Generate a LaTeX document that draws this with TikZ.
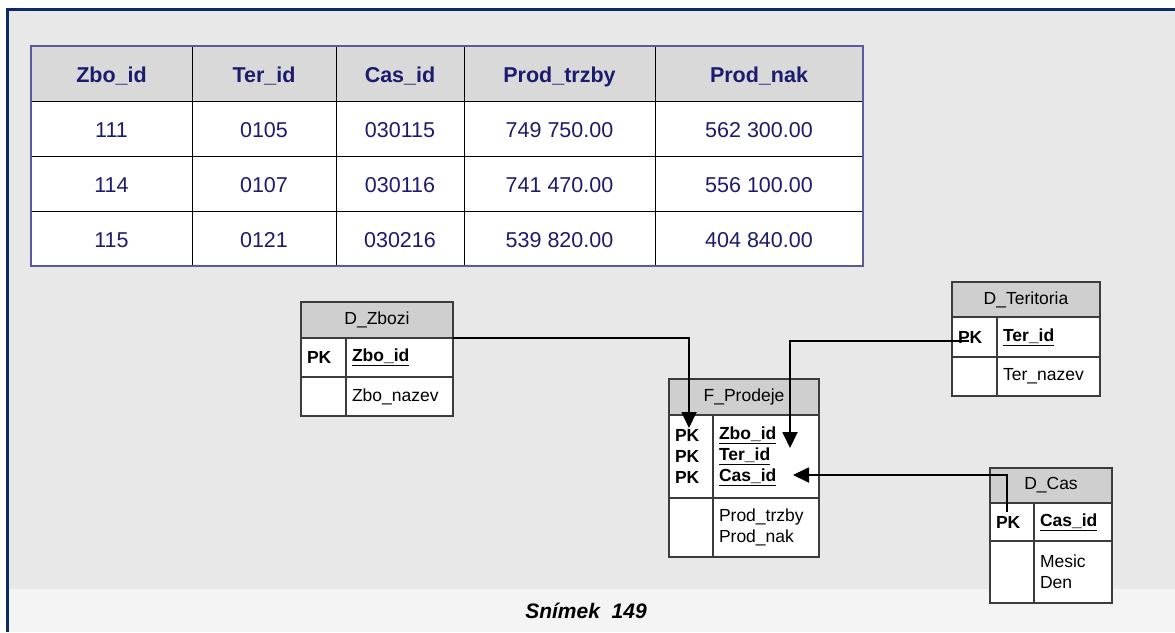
\documentclass[tikz,border=0pt]{standalone}
\usepackage{fontspec}
\setmainfont{Liberation Sans}
\usetikzlibrary{arrows.meta}
\definecolor{slidegray}{HTML}{E8E8E8}
\definecolor{stripgray}{HTML}{F4F4F4}
\definecolor{framenavy}{HTML}{0D2A63}
\definecolor{tabtext}{HTML}{1C1C6E}
\definecolor{tabedge}{HTML}{5A5A9C}
\definecolor{headgray}{HTML}{D9D9D9}
\definecolor{titlegray}{HTML}{CFCFCF}
\definecolor{edgegray}{HTML}{3C3C3C}
\begin{document}
\begin{tikzpicture}[x=1pt,y=-1pt,
  thead/.style={draw=black,line width=1pt,fill=headgray,text=tabtext,
    font=\fontsize{21.5}{26}\selectfont\bfseries,text height=18pt,text depth=0pt,
    minimum height=55pt,inner sep=0pt,outer sep=0pt},
  tcell/.style={thead,fill=white,font=\fontsize{21.5}{26}\selectfont},
  etitle/.style={draw=edgegray,line width=1.4pt,fill=titlegray,anchor=north west,
    font=\fontsize{17.5}{21}\selectfont,inner sep=0pt,outer sep=0pt},
  ecell/.style={draw=edgegray,line width=1.4pt,fill=white,anchor=north west,
    font=\fontsize{17.5}{21}\selectfont,align=left,inner xsep=6pt,inner ysep=0pt,
    outer sep=0pt},
  conn/.style={line width=1.8pt,-{Triangle[length=16pt,width=15pt]}}]
\def\keyname#1{\underline{\textbf{#1}}}
\useasboundingbox (0,0) rectangle (1175,632);
% slide background
\fill[white] (0,0) rectangle (1175,632);
\fill[slidegray] (8,10) rectangle (1175,589);
\fill[stripgray] (8,589) rectangle (1175,632);
\draw[framenavy,line width=3.5pt] (7.7,632) -- (7.7,9.5) -- (1175,9.5);
% fact table rows
\foreach \xl/\xr/\hd/\va/\vb/\vc [count=\col] in {
  31/192/Zbo\_id/111/114/115,
  192/336/Ter\_id/0105/0107/0121,
  336/464/Cas\_id/030115/030116/030216,
  464/655/Prod\_trzby/749 750.00/741 470.00/539 820.00,
  655/863/Prod\_nak/562 300.00/556 100.00/404 840.00}
{
  \node[thead,minimum width={(\xr-\xl)*1pt}] (h\col) at ({(\xl+\xr)/2},73.5) {\hd};
  \node[tcell,minimum width={(\xr-\xl)*1pt}] (ra\col) at ({(\xl+\xr)/2},128.5) {\va};
  \node[tcell,minimum width={(\xr-\xl)*1pt}] (rb\col) at ({(\xl+\xr)/2},183.5) {\vb};
  \node[tcell,minimum width={(\xr-\xl)*1pt}] (rc\col) at ({(\xl+\xr)/2},238.5) {\vc};
}
\draw[tabedge,line width=1.6pt] (h1.north west) rectangle (rc5.south east);
% D_Zbozi
\node[etitle,minimum width=152pt,minimum height=36pt] (zbT) at (301,302) {D\_Zbozi};
\node[ecell,text width=33pt,minimum height=39pt] (zbK) at (zbT.south west) {\textbf{PK}};
\node[ecell,text width=95pt,minimum height=39pt] (zbKn) at (zbK.north east) {\keyname{Zbo\_id}};
\node[ecell,text width=33pt,minimum height=39pt] (zbA) at (zbK.south west) {};
\node[ecell,text width=95pt,minimum height=39pt] (zbAn) at (zbA.north east) {Zbo\_nazev};
% F_Prodeje
\node[etitle,minimum width=150pt,minimum height=36pt] (fpT) at (669,379) {F\_Prodeje};
\node[ecell,text width=32pt,minimum height=83pt] (fpK) at (fpT.south west)
  {\textbf{PK}\\\textbf{PK}\\\textbf{PK}};
\node[ecell,text width=94pt,minimum height=83pt] (fpKn) at (fpK.north east)
  {\keyname{Zbo\_id}\\\keyname{Ter\_id}\\\keyname{Cas\_id}};
\node[ecell,text width=32pt,minimum height=59pt] (fpA) at (fpK.south west) {};
\node[ecell,text width=94pt,minimum height=59pt] (fpAn) at (fpA.north east)
  {Prod\_trzby\\Prod\_nak};
% D_Teritoria
\node[etitle,minimum width=148pt,minimum height=35pt] (teT) at (952,282) {D\_Teritoria};
\node[ecell,text width=33pt,minimum height=40pt] (teK) at (teT.south west) {\textbf{PK}};
\node[ecell,text width=91pt,minimum height=40pt] (teKn) at (teK.north east) {\keyname{Ter\_id}};
\node[ecell,text width=33pt,minimum height=39pt] (teA) at (teK.south west) {};
\node[ecell,text width=91pt,minimum height=39pt] (teAn) at (teA.north east) {Ter\_nazev};
% D_Cas
\node[etitle,minimum width=122pt,minimum height=35pt] (caT) at (990,468) {D\_Cas};
\node[ecell,text width=32pt,minimum height=38pt] (caK) at (caT.south west) {\textbf{PK}};
\node[ecell,text width=66pt,minimum height=38pt] (caKn) at (caK.north east) {\keyname{Cas\_id}};
\node[ecell,text width=32pt,minimum height=62pt] (caA) at (caK.south west) {};
\node[ecell,text width=66pt,minimum height=62pt] (caAn) at (caA.north east) {Mesic\\Den};
% connectors
\coordinate (zbTip) at (689,428);
\coordinate (teTip) at (790,448);
\coordinate (caTip) at (793,475);
\coordinate (teEnd) at (969,341);
\coordinate (caEnd) at (1007,512);
\draw[conn] (zbT.south east) -| (zbTip);
\draw[conn] (teEnd) -| (teTip);
\draw[conn] (caEnd) |- (caTip);
% caption
\node[font=\fontsize{21}{25}\selectfont\bfseries\itshape] (cap) at (586,611) {Snímek\ \ 149};
\end{tikzpicture}
\end{document}
